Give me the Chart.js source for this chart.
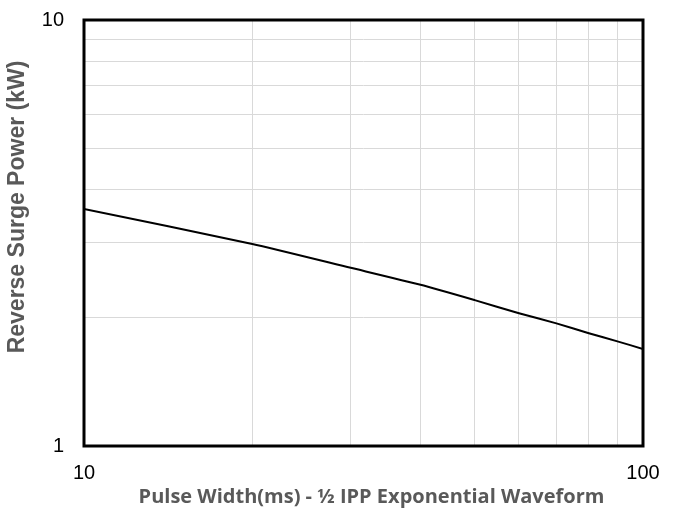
<!DOCTYPE html>
<html>
<head>
<meta charset="utf-8">
<script src="https://cdn.jsdelivr.net/npm/chart.js@4/dist/chart.umd.min.js"></script>
<style>
  html, body { margin: 0; padding: 0; background: #fff; }
</style>
</head>
<body>
<canvas id="surgeChart" width="676" height="516"></canvas>
<script>
const pulseWidths = [10, 20, 30, 40, 50, 60, 70, 80, 90, 100];
const surgePower = [3.6, 2.98, 2.62, 2.39, 2.2, 2.05, 1.94, 1.84, 1.76, 1.69];
const xGridTicks = [10, 20, 30, 40, 50, 60, 70, 80, 90, 100];
const yGridTicks = [1, 2, 3, 4, 5, 6, 7, 8, 9, 10];
const xLabelTicks = [10, 100];
const yLabelTicks = [1, 10];
const xTitle = "Pulse Width(ms) - ½ IPP Exponential Waveform";
const yTitle = "Reverse Surge Power (kW)";

// heavy black frame round the plot area, plus the two axis titles
// (the y title sits off-centre in the original, so it is placed by hand)
const frame = {
  id: "frame",
  afterDraw(chart) {
    const { ctx, chartArea: a } = chart;
    ctx.save();
    ctx.strokeStyle = "#000";
    ctx.lineWidth = 3;
    ctx.strokeRect(a.left, a.top, a.right - a.left, a.bottom - a.top);

    ctx.fillStyle = "#595959";
    ctx.textAlign = "center";
    ctx.textBaseline = "middle";
    ctx.font = "bold 20px 'Open Sans'";
    ctx.fillText(xTitle, a.left + (a.right - a.left) / 2 + 8, a.bottom + 51);

    ctx.translate(18, a.top + 187);
    ctx.rotate(-Math.PI / 2);
    ctx.font = "bold 23px 'Liberation Sans', Arial";
    ctx.fillText(yTitle, 0, 0);
    ctx.restore();
  }
};

const ctx = document.getElementById("surgeChart").getContext("2d");
new Chart(ctx, {
  type: "line",
  data: {
    datasets: [{
      data: pulseWidths.map((x, i) => ({ x, y: surgePower[i] })),
      borderColor: "#000",
      borderWidth: 2,
      pointRadius: 0,
      tension: 0.2,
      fill: false
    }]
  },
  options: {
    responsive: false,
    animation: false,
    layout: { padding: { top: 20, right: 33, left: 0, bottom: 0 } },
    plugins: { legend: { display: false }, tooltip: { enabled: false } },
    scales: {
      x: {
        type: "logarithmic",
        min: 10,
        max: 100,
        afterBuildTicks: s => { s.ticks = xGridTicks.map(v => ({ value: v })); },
        afterFit: s => { s.height = 70; s.paddingLeft = 0; s.paddingRight = 0; },
        grid: { color: "#d9d9d9", lineWidth: 1, drawTicks: false },
        border: { display: false },
        ticks: {
          autoSkip: false,
          maxRotation: 0,
          padding: 15,
          color: "#000",
          font: { family: "Liberation Sans, Arial", size: 20 },
          callback: v => xLabelTicks.includes(v) ? String(v) : ""
        }
      },
      y: {
        type: "logarithmic",
        min: 1,
        max: 10,
        afterBuildTicks: s => { s.ticks = yGridTicks.map(v => ({ value: v })); },
        afterFit: s => { s.width = 84; s.paddingTop = 0; s.paddingBottom = 0; },
        grid: { color: "#d9d9d9", lineWidth: 1, drawTicks: false },
        border: { display: false },
        ticks: {
          autoSkip: false,
          padding: 20,
          color: "#000",
          font: { family: "Liberation Sans, Arial", size: 20 },
          callback: v => yLabelTicks.includes(v) ? String(v) : ""
        }
      }
    }
  },
  plugins: [frame]
});
</script>
</body>
</html>
